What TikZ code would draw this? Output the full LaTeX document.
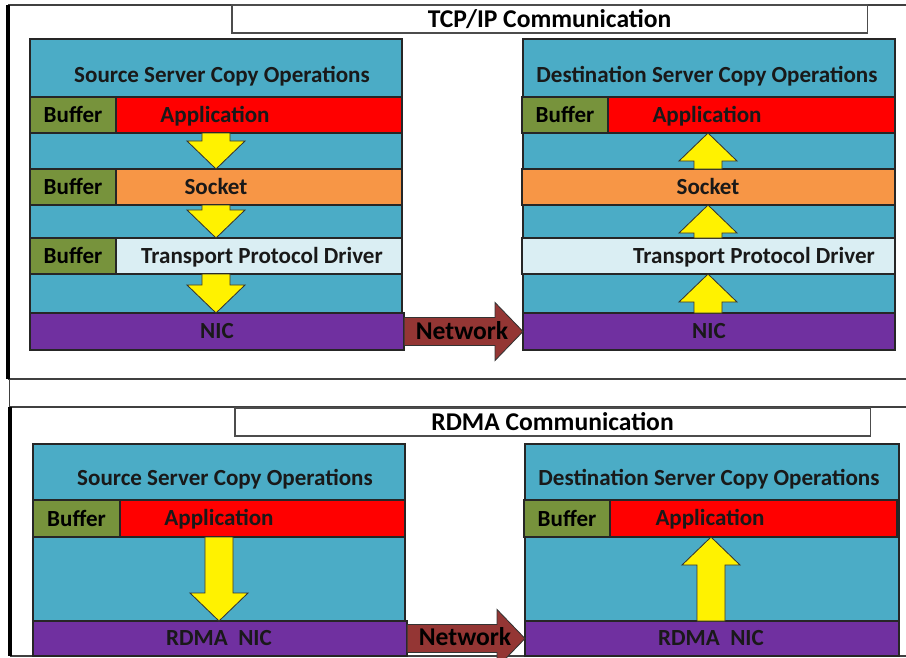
\documentclass[tikz,border=0pt]{standalone}
\usepackage{fontspec}
\setmainfont{Carlito}
\usetikzlibrary{positioning,calc}

\definecolor{cellteal}{HTML}{4BACC6}
\definecolor{bufolive}{HTML}{77933C}
\definecolor{appred}{HTML}{FF0000}
\definecolor{sockorange}{HTML}{F79646}
\definecolor{tpdlight}{HTML}{DAEEF3}
\definecolor{nicpurple}{HTML}{7030A0}
\definecolor{netbrown}{HTML}{943634}

% fat block arrow from #2 to the tip #3
\newcommand{\blockarrow}[3][fatarrow]{%
  \path (#2) coordinate (ba-s) (#3) coordinate (ba-t);
  \path ($(ba-t)!0.7cm!(ba-s)$) coordinate (ba-h);
  \draw[#1] ($(ba-s)!0.35cm!90:(ba-t)$) -- ($(ba-h)!0.35cm!90:(ba-t)$)
    -- ($(ba-h)!0.725cm!90:(ba-t)$) -- (ba-t)
    -- ($(ba-h)!0.725cm!-90:(ba-t)$) -- ($(ba-h)!0.35cm!-90:(ba-t)$)
    -- ($(ba-s)!0.35cm!-90:(ba-t)$) -- cycle;}

\begin{document}
\begin{tikzpicture}[x=0.025cm, y=-0.025cm,
  font=\fontsize{16.4}{19}\selectfont\bfseries,
  layer/.style={draw=black!85, line width=0.9pt, inner sep=0pt, outer sep=0pt,
    anchor=north west},
  server/.style={layer, fill=cellteal, minimum width=9.3cm},
  bufbox/.style={layer, fill=bufolive, minimum width=2.15cm, minimum height=0.9cm,
    text height=11pt, text depth=0pt},
  appbox/.style={layer, fill=appred, minimum height=0.9cm},
  sockbox/.style={layer, fill=sockorange, minimum height=0.9cm},
  tpdbox/.style={layer, fill=tpdlight, minimum height=0.9cm},
  nicbox/.style={layer, fill=nicpurple, minimum width=9.35cm, minimum height=0.925cm},
  titlebox/.style={layer, draw=black!70, fill=white, minimum width=15.875cm,
    minimum height=0.7cm, font=\fontsize{18.2}{21}\selectfont\bfseries,
    text height=12pt, text depth=0pt},
  lbl/.style={inner sep=0pt, text=black!90, text height=11pt, text depth=0pt},
  netlbl/.style={lbl, text=black, font=\fontsize{18.2}{21}\selectfont\bfseries, text height=12pt},
  fatarrow/.style={draw=black!80, fill=yellow, line width=0.6pt, line join=miter},
  netarrow/.style={draw=black!80, fill=netbrown, line width=0.6pt, line join=miter},
  frameline/.style={draw=black!75, line width=1pt},
  frameedge/.style={draw=black, line width=2.2pt}
]
  \useasboundingbox (0,0) rectangle (906,657);

  % panel frames
  \draw[frameline] (8,5) -- (906,5);
  \draw[frameline] (8,379) -- (906,379);
  \draw[frameline] (9.5,379) -- (9.5,407);
  \draw[frameline] (10,407) -- (906,407);
  \draw[frameline] (10,656) -- (906,656);
  \draw[frameedge] (8,5) -- (8,379);
  \draw[frameedge] (10,407) -- (10,656);

  %% TCP/IP
  \node[titlebox] (tcptitle) at (232,5) {TCP/IP Communication};

  \node[server, minimum height=7.775cm] (srcbox) at (30,39) {};
  \node[lbl] (srchead) at (222,75) {Source Server Copy Operations};
  \node[bufbox] (srcbuf1) at (30,97) {Buffer};
  \node[appbox, minimum width=7.15cm, right=0pt of srcbuf1] (srcapp) {};
  \node[lbl] (srcapptxt) at (215,115) {Application};
  \node[bufbox] (srcbuf2) at (30,169) {Buffer};
  \node[sockbox, minimum width=7.15cm, right=0pt of srcbuf2] (srcsock) {};
  \node[lbl] (srcsocktxt) at (216,187) {Socket};
  \node[bufbox] (srcbuf3) at (30,238) {Buffer};
  \node[tpdbox, minimum width=7.15cm, right=0pt of srcbuf3] (srctpd) {};
  \node[lbl] (srctpdtxt) at (262,256) {Transport Protocol Driver};
  \node[nicbox] (srcnic) at (30,313) {};
  \node[lbl] (srcnictxt) at (217,331) {NIC};

  \node[server, minimum height=7.775cm] (dstbox) at (523,39) {};
  \node[lbl] (dsthead) at (707,75) {Destination Server Copy Operations};
  \node[bufbox] (dstbuf1) at (522,97) {Buffer};
  \node[appbox, minimum width=7.175cm, right=0pt of dstbuf1] (dstapp) {};
  \node[lbl] (dstapptxt) at (707,115) {Application};
  \node[sockbox, minimum width=9.325cm] (dstsock) at (522,169) {};
  \node[lbl] (dstsocktxt) at (708,187) {Socket};
  \node[tpdbox, minimum width=9.325cm] (dsttpd) at (522,238) {};
  \node[lbl] (dsttpdtxt) at (754,256) {Transport Protocol Driver};
  \node[nicbox, minimum width=9.3cm] (dstnic) at (523,313) {};
  \node[lbl] (dstnictxt) at (709,331) {NIC};

  \blockarrow{srcsocktxt |- srcapp.south}{srcsocktxt |- srcsock.north}
  \blockarrow{srcsocktxt |- srcsock.south}{srcsocktxt |- srctpd.north}
  \blockarrow{srcsocktxt |- srctpd.south}{srcsocktxt |- srcnic.north}
  \blockarrow{dstsocktxt |- dstsock.north}{dstsocktxt |- dstapp.south}
  \blockarrow{dstsocktxt |- dsttpd.north}{dstsocktxt |- dstsock.south}
  \blockarrow{dstsocktxt |- dstnic.north}{dstsocktxt |- dsttpd.south}

  \blockarrow[netarrow]{srcnic.east}{dstnic.west}
  \node[netlbl] (tcpnet) at (462,331) {Network};

  %% RDMA
  \node[titlebox] (rdmatitle) at (235,408) {RDMA Communication};

  \node[server, minimum height=5.3cm] (rsrcbox) at (33,444) {};
  \node[lbl] (rsrchead) at (225,478) {Source Server Copy Operations};
  \node[bufbox, minimum width=2.175cm, minimum height=0.925cm] (rsrcbuf) at (33,500) {Buffer};
  \node[appbox, minimum width=7.125cm, minimum height=0.925cm, right=0pt of rsrcbuf] (rsrcapp) {};
  \node[lbl] (rsrcapptxt) at (219,518) {Application};
  \node[nicbox, minimum height=0.875cm] (rsrcnic) at (33,621) {};
  \node[lbl] (rsrcnictxt) at (219,638) {RDMA~~NIC};

  \node[server, minimum width=9.35cm, minimum height=5.3cm] (rdstbox) at (525,444) {};
  \node[lbl] (rdsthead) at (709,478) {Destination Server Copy Operations};
  \node[bufbox, minimum height=0.925cm] (rdstbuf) at (524,500) {Buffer};
  \node[appbox, minimum width=7.175cm, minimum height=0.925cm, right=0pt of rdstbuf] (rdstapp) {};
  \node[lbl] (rdstapptxt) at (710,518) {Application};
  \node[nicbox, minimum height=0.875cm] (rdstnic) at (525,621) {};
  \node[lbl] (rdstnictxt) at (711,638) {RDMA~~NIC};

  \blockarrow{rsrcapptxt |- rsrcapp.south}{rsrcapptxt |- rsrcnic.north}
  \blockarrow{rdstnictxt |- rdstnic.north}{rdstnictxt |- rdstapp.south}

  \blockarrow[netarrow]{rsrcnic.east}{rdstnic.west}
  \node[netlbl] (rdmanet) at (465,637) {Network};
\end{tikzpicture}
\end{document}
